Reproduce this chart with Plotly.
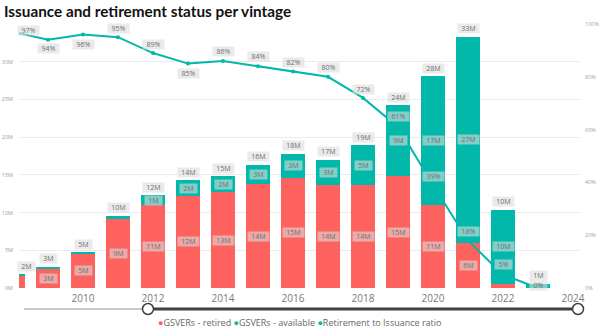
import plotly.graph_objects as go

# ---- data ---------------------------------------------------------------
vintages = [2008, 2009, 2010, 2011, 2012, 2013, 2014, 2015,
            2016, 2017, 2018, 2019, 2020, 2021, 2022, 2023]
retired_m = [1.70, 2.63, 4.55, 9.10, 11.0, 12.2, 12.7, 13.75,
             14.6, 13.6, 13.6, 14.8, 11.0, 6.0, 0.52, 0.0]
available_m = [0.05, 0.17, 0.20, 0.45, 1.30, 2.1, 2.1, 2.6,
               3.2, 3.4, 5.3, 9.4, 17.1, 27.3, 9.85, 0.55]
ratio = [0.97, 0.94, 0.96, 0.95, 0.89, 0.85, 0.86, 0.84,
         0.82, 0.80, 0.72, 0.61, 0.39, 0.18, 0.05, 0.00]
year_ticks = [2010, 2012, 2014, 2016, 2018, 2020, 2022, 2024]
volume_ticks = [0, 5, 10, 15, 20, 25, 30]
ratio_ticks = [0, 0.2, 0.4, 0.6, 0.8, 1.0]

# ---- styling -------------------------------------------------------------
RED = "#FD625E"
TEAL = "#01B8AA"
FONT = "Open Sans"
LABEL_BG = "rgba(220,220,220,0.6)"
LABEL_FG = "#6f6f6f"

W, H = 600, 336
PLOT_L, PLOT_R, PLOT_T, PLOT_B = 19, 580, 24, 288
X_RANGE = [2008.171, 2024.2]
PX_PER_YEAR = (PLOT_R - PLOT_L) / (X_RANGE[1] - X_RANGE[0])

# vertical offsets (px) of the ratio labels relative to their points
ratio_label_dy = [1, -9, -10, 9, 9, -10, 9, 10, 9, 9, 8, 10, 9, 9, 10, 3]


def px_x(px):
    return (px - PLOT_L) / (PLOT_R - PLOT_L)


def px_y(py):
    return (PLOT_B - py) / (PLOT_B - PLOT_T)


def box_width(text):
    return 4 * len(text) + 9


def label_x(yr, text):
    # keep labels of partially visible vintages inside the plot area
    lo = X_RANGE[0] + (box_width(text) / 2 - 1) / PX_PER_YEAR
    return max(yr, lo)


fig = go.Figure()

fig.add_trace(go.Bar(
    x=vintages, y=retired_m, name="GSVERs - retired",
    marker=dict(color=RED, line=dict(width=0)), width=0.66,
    hoverinfo="skip",
))
fig.add_trace(go.Bar(
    x=vintages, y=available_m, name="GSVERs - available",
    marker=dict(color=TEAL, line=dict(width=0)), width=0.66,
    hoverinfo="skip",
))
fig.add_trace(go.Scatter(
    x=vintages, y=ratio, yaxis="y2", name="Retirement to Issuance ratio",
    mode="lines+markers",
    line=dict(color=TEAL, width=2),
    marker=dict(color=TEAL, size=4),
    hoverinfo="skip",
))

annotations = []


def add_label(x, y, text, yref, yshift):
    annotations.append(dict(
        x=label_x(x, text), y=y, xref="x", yref=yref, text=text,
        showarrow=False, xanchor="center", yanchor="middle",
        yshift=yshift,
        width=box_width(text), height=9, borderpad=0,
        bgcolor=LABEL_BG, font=dict(family=FONT, size=7, color=LABEL_FG),
    ))


# stack totals above bars and segment values inside bars
for yr, r, a in zip(vintages, retired_m, available_m):
    total = r + a
    add_label(yr, total, f"{round(total):d}M", "y", 8)
    if yr > X_RANGE[0] + 0.5:
        if r >= 1.0:
            add_label(yr, r / 2, f"{round(r):d}M", "y", 0)
        if a >= 1.0:
            add_label(yr, r + a / 2, f"{round(a):d}M", "y", 0)

# ratio labels
for yr, v, dy in zip(vintages, ratio, ratio_label_dy):
    add_label(yr, v, f"{round(v * 100):d}%", "y2", dy)

# legend drawn as a single line of text with coloured dots
annotations.append(dict(
    x=px_x(300), y=px_y(322), xref="paper", yref="paper",
    xanchor="center", yanchor="middle", showarrow=False,
    text=(f'<span style="color:{RED}">●</span>GSVERs - retired '
          f'<span style="color:{TEAL}">●</span>GSVERs - available '
          f'<span style="color:{TEAL}">●</span>Retirement to Issuance ratio'),
    font=dict(family=FONT, size=9, color="#666666"),
))

# range slider decoration below the axis
SL_Y = 309
shapes = [
    dict(type="line", xref="paper", yref="paper",
         x0=px_x(24), x1=px_x(148), y0=px_y(SL_Y), y1=px_y(SL_Y),
         line=dict(color="#C8C8C8", width=2)),
    dict(type="line", xref="paper", yref="paper",
         x0=px_x(148), x1=px_x(578), y0=px_y(SL_Y), y1=px_y(SL_Y),
         line=dict(color="#404040", width=3)),
]
for hx in (148, 578):
    shapes.append(dict(
        type="circle", xref="paper", yref="paper",
        xsizemode="pixel", ysizemode="pixel",
        xanchor=px_x(hx), yanchor=px_y(SL_Y),
        x0=-5.5, x1=5.5, y0=-5.5, y1=5.5,
        fillcolor="white", line=dict(color="#404040", width=1.5),
    ))

fig.update_layout(
    width=W, height=H,
    margin=dict(l=PLOT_L, r=W - PLOT_R, t=PLOT_T, b=H - PLOT_B, pad=0),
    paper_bgcolor="white", plot_bgcolor="white",
    barmode="stack", showlegend=False,
    title=dict(
        text="<b>Issuance and retirement status per vintage</b>",
        x=4 / W, xanchor="left", xref="container",
        y=1 - 12 / H, yanchor="middle", yref="container",
        font=dict(family="Lato", size=15.3, color="#111111"),
    ),
    xaxis=dict(
        range=X_RANGE, tickvals=year_ticks, automargin=False,
        showgrid=False, zeroline=False, showline=False, ticks="",
        tickfont=dict(family=FONT, size=10, color="#777777"),
        ticklabelstandoff=3,
    ),
    yaxis=dict(
        range=[0, 35], tickvals=volume_ticks, automargin=False,
        ticktext=[f"{v}M" for v in volume_ticks],
        showgrid=True, gridcolor="#EBEBEB", gridwidth=1,
        zeroline=False, showline=False, ticks="",
        tickfont=dict(family=FONT, size=5.5, color="#A0A0A0"),
        ticklabelstandoff=5,
    ),
    yaxis2=dict(
        overlaying="y", side="right", range=[0, 1.0], automargin=False,
        tickvals=ratio_ticks, tickformat=".0%",
        showgrid=False, zeroline=False, showline=False, ticks="",
        tickfont=dict(family=FONT, size=5.5, color="#A0A0A0"),
        ticklabelstandoff=4,
    ),
    annotations=annotations,
    shapes=shapes,
)

fig.write_html("out.html")
